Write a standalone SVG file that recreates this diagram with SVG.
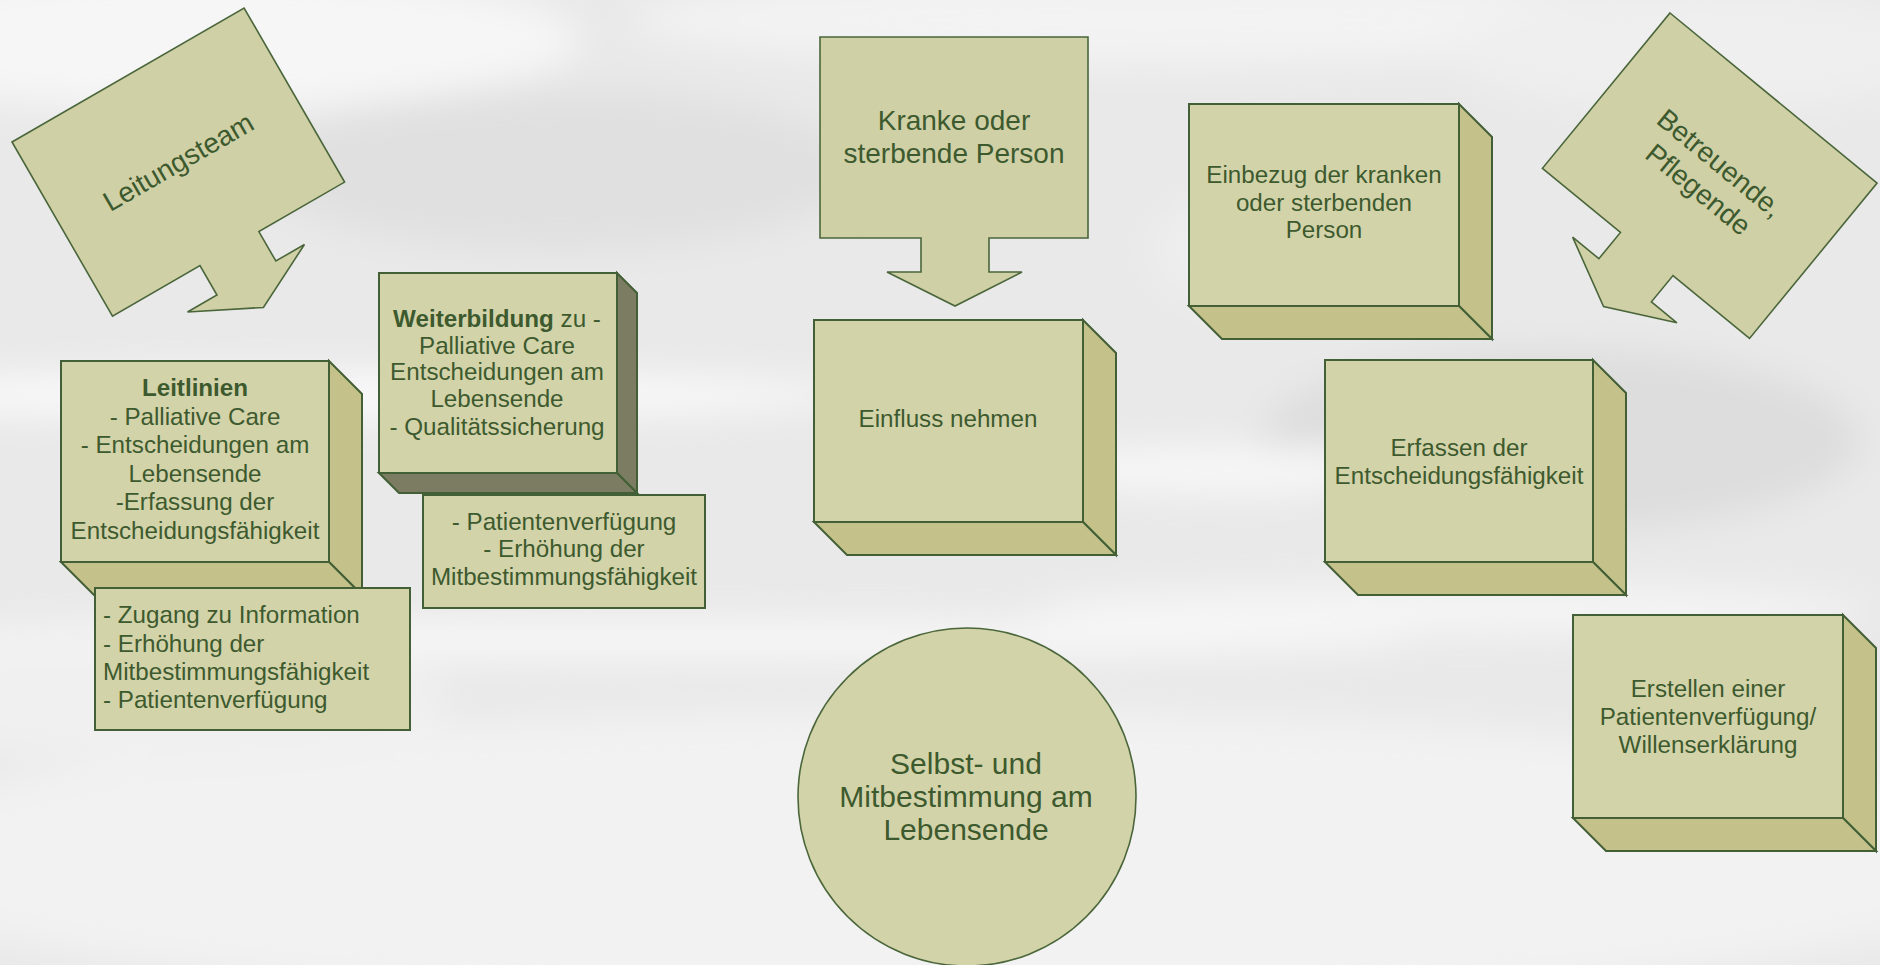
<svg xmlns="http://www.w3.org/2000/svg" width="1880" height="965" viewBox="0 0 1880 965">
<defs>
<style>
.front{fill:#d3d3aa;stroke:#435f35;stroke-width:2}
.side{fill:#c4c28a;stroke:#435f35;stroke-width:2}
.dark{fill:#7b7c61;stroke:#435f35;stroke-width:2}
.arrowshape{fill:#d0d0a7;stroke:#4a663a;stroke-width:1.6}
.t{font-family:"Liberation Sans",Arial,sans-serif;fill:#3d5a2e;text-anchor:middle}
.s23{font-size:24.2px}
.s28{font-size:28px}
.s30{font-size:30px}
.b{font-weight:bold}
.l{text-anchor:start}
</style>
<filter id="blur" x="-20%" y="-50%" width="140%" height="200%"><feGaussianBlur stdDeviation="18"/></filter>
<path id="callout" d="M0,0 H268 V201 H169 V235 H202 L135,269 L67,235 H101 V201 H0 Z"/>
</defs>
<g id="background">
<rect width="1880" height="965" fill="#e9e9e9"/>
<g filter="url(#blur)">
<ellipse cx="200" cy="40" rx="380" ry="70" fill="#f6f6f6"/>
<ellipse cx="1150" cy="20" rx="520" ry="45" fill="#f3f3f3"/>
<ellipse cx="1700" cy="50" rx="250" ry="60" fill="#efefef"/>
<ellipse cx="560" cy="170" rx="300" ry="80" fill="#e0e0e0"/>
<ellipse cx="1560" cy="440" rx="300" ry="90" fill="#dddddd"/>
<ellipse cx="330" cy="395" rx="520" ry="22" fill="#fafafa"/>
<ellipse cx="1240" cy="470" rx="230" ry="22" fill="#f8f8f8"/>
<ellipse cx="650" cy="640" rx="760" ry="20" fill="#f7f7f7"/>
<ellipse cx="1450" cy="610" rx="420" ry="24" fill="#f5f5f5"/>
<ellipse cx="940" cy="860" rx="1100" ry="150" fill="#f2f2f2"/>
<ellipse cx="1300" cy="250" rx="150" ry="70" fill="#eeeeee"/>
<ellipse cx="150" cy="700" rx="300" ry="60" fill="#f0f0f0"/>
</g>
</g>
<g id="connectors"></g>
<g id="leitungsteam" transform="translate(12,142) rotate(-30)">
<use href="#callout" class="arrowshape"/>
<text class="t s28" x="134" y="110">Leitungsteam</text>
</g>
<g id="kranke" transform="translate(820,37)">
<use href="#callout" class="arrowshape"/>
<text class="t s28" x="134" y="93">Kranke oder</text>
<text class="t s28" x="134" y="126">sterbende Person</text>
</g>
<g id="betreuende" transform="translate(1670,13) rotate(39.4)">
<use href="#callout" class="arrowshape"/>
<text class="t s28" x="134" y="94">Betreuende,</text>
<text class="t s28" x="134" y="128">Pflegende</text>
</g>
<g id="leitlinien">
<path class="side" d="M329,361 L362,394 L362,595 L329,562 Z"/>
<path class="side" d="M61,562 L329,562 L362,595 L94,595 Z"/>
<rect class="front" x="61" y="361" width="268" height="201"/>
<text class="t s23 b" x="195" y="396">Leitlinien</text>
<text class="t s23" x="195" y="424.5">- Palliative Care</text>
<text class="t s23" x="195" y="453">- Entscheidungen am</text>
<text class="t s23" x="195" y="481.5">Lebensende</text>
<text class="t s23" x="195" y="510">-Erfassung der</text>
<text class="t s23" x="195" y="538.5">Entscheidungsfähigkeit</text>
</g>
<g id="zugang">
<rect class="front" x="95" y="588" width="315" height="142"/>
<text class="t s23 l" x="103" y="623">- Zugang zu Information</text>
<text class="t s23 l" x="103" y="651.5">- Erhöhung der</text>
<text class="t s23 l" x="103" y="680">Mitbestimmungsfähigkeit</text>
<text class="t s23 l" x="103" y="708">- Patientenverfügung</text>
</g>
<g id="weiterbildung">
<path class="dark" d="M617,273 L637,293 L637,493 L617,473 Z"/>
<path class="dark" d="M379,473 L617,473 L637,493 L399,493 Z"/>
<rect class="front" x="379" y="273" width="238" height="200"/>
<text class="t s23" x="497" y="327"><tspan class="b">Weiterbildung</tspan> zu -</text>
<text class="t s23" x="497" y="353.5">Palliative Care</text>
<text class="t s23" x="497" y="380">Entscheidungen am</text>
<text class="t s23" x="497" y="407">Lebensende</text>
<text class="t s23" x="497" y="435">- Qualitätssicherung</text>
</g>
<g id="patientenverfuegung">
<rect class="front" x="423" y="495" width="282" height="113"/>
<text class="t s23" x="564" y="530">- Patientenverfügung</text>
<text class="t s23" x="564" y="557">- Erhöhung der</text>
<text class="t s23" x="564" y="585">Mitbestimmungsfähigkeit</text>
</g>
<g id="einfluss">
<path class="side" d="M1083,320 L1116,353 L1116,555 L1083,522 Z"/>
<path class="side" d="M814,522 L1083,522 L1116,555 L847,555 Z"/>
<rect class="front" x="814" y="320" width="269" height="202"/>
<text class="t s23" x="948" y="427">Einfluss nehmen</text>
</g>
<g id="selbstbestimmung">
<circle cx="967" cy="797" r="169" fill="#d3d3aa" stroke="#4a663a" stroke-width="1.6"/>
<text class="t s30" x="966" y="774">Selbst- und</text>
<text class="t s30" x="966" y="807">Mitbestimmung am</text>
<text class="t s30" x="966" y="840">Lebensende</text>
</g>
<g id="einbezug">
<path class="side" d="M1459,104 L1492,137 L1492,339 L1459,306 Z"/>
<path class="side" d="M1189,306 L1459,306 L1492,339 L1222,339 Z"/>
<rect class="front" x="1189" y="104" width="270" height="202"/>
<text class="t s23" x="1324" y="183">Einbezug der kranken</text>
<text class="t s23" x="1324" y="210.5">oder sterbenden</text>
<text class="t s23" x="1324" y="238">Person</text>
</g>
<g id="erfassen">
<path class="side" d="M1593,360 L1626,393 L1626,595 L1593,562 Z"/>
<path class="side" d="M1325,562 L1593,562 L1626,595 L1358,595 Z"/>
<rect class="front" x="1325" y="360" width="268" height="202"/>
<text class="t s23" x="1459" y="456">Erfassen der</text>
<text class="t s23" x="1459" y="483.5">Entscheidungsfähigkeit</text>
</g>
<g id="erstellen">
<path class="side" d="M1843,615 L1876,648 L1876,851 L1843,818 Z"/>
<path class="side" d="M1573,818 L1843,818 L1876,851 L1606,851 Z"/>
<rect class="front" x="1573" y="615" width="270" height="203"/>
<text class="t s23" x="1708" y="697">Erstellen einer</text>
<text class="t s23" x="1708" y="725">Patientenverfügung/</text>
<text class="t s23" x="1708" y="753">Willenserklärung</text>
</g>
</svg>
